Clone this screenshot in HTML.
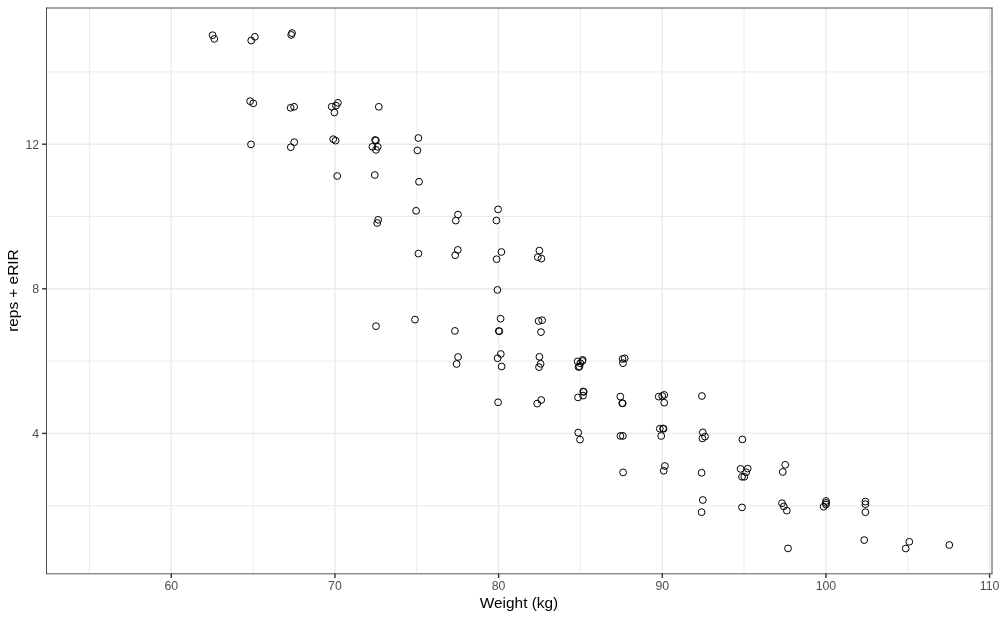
<!DOCTYPE html>
<html><head><meta charset="utf-8"><title>plot</title>
<style>html,body{margin:0;padding:0;background:#fff}svg{display:block}text{font-family:"Liberation Sans",sans-serif}</style></head><body>
<svg width="1000" height="618" viewBox="0 0 1000 618">
<rect width="1000" height="618" fill="#fff"/>
<g stroke="#EBEBEB" stroke-width="1.0" fill="none">
<line x1="46.5" x2="992.0" y1="505.70" y2="505.70"/>
<line x1="46.5" x2="992.0" y1="361.10" y2="361.10"/>
<line x1="46.5" x2="992.0" y1="216.50" y2="216.50"/>
<line x1="46.5" x2="992.0" y1="71.90" y2="71.90"/>
<line x1="89.43" x2="89.43" y1="8.0" y2="573.6"/>
<line x1="253.09" x2="253.09" y1="8.0" y2="573.6"/>
<line x1="416.76" x2="416.76" y1="8.0" y2="573.6"/>
<line x1="580.44" x2="580.44" y1="8.0" y2="573.6"/>
<line x1="744.11" x2="744.11" y1="8.0" y2="573.6"/>
<line x1="907.78" x2="907.78" y1="8.0" y2="573.6"/>
</g>
<g stroke="#EBEBEB" stroke-width="1.42" fill="none">
<line x1="46.5" x2="992.0" y1="433.40" y2="433.40"/>
<line x1="46.5" x2="992.0" y1="288.80" y2="288.80"/>
<line x1="46.5" x2="992.0" y1="144.20" y2="144.20"/>
<line x1="171.26" x2="171.26" y1="8.0" y2="573.6"/>
<line x1="334.93" x2="334.93" y1="8.0" y2="573.6"/>
<line x1="498.60" x2="498.60" y1="8.0" y2="573.6"/>
<line x1="662.27" x2="662.27" y1="8.0" y2="573.6"/>
<line x1="825.94" x2="825.94" y1="8.0" y2="573.6"/>
<line x1="989.61" x2="989.61" y1="8.0" y2="573.6"/>
</g>
<g stroke="#000" stroke-width="1" fill="none">
<circle cx="212.6" cy="35.2" r="3.4"/>
<circle cx="214.3" cy="38.9" r="3.4"/>
<circle cx="254.9" cy="36.8" r="3.4"/>
<circle cx="251.2" cy="40.5" r="3.4"/>
<circle cx="250.1" cy="101.2" r="3.4"/>
<circle cx="253.3" cy="103.3" r="3.4"/>
<circle cx="251.0" cy="144.4" r="3.4"/>
<circle cx="292.0" cy="33.1" r="3.4"/>
<circle cx="291.2" cy="34.9" r="3.4"/>
<circle cx="290.6" cy="107.8" r="3.4"/>
<circle cx="294.1" cy="106.8" r="3.4"/>
<circle cx="294.2" cy="142.2" r="3.4"/>
<circle cx="290.8" cy="147.2" r="3.4"/>
<circle cx="337.9" cy="102.8" r="3.4"/>
<circle cx="331.7" cy="106.7" r="3.4"/>
<circle cx="336.0" cy="105.6" r="3.4"/>
<circle cx="334.4" cy="112.5" r="3.4"/>
<circle cx="333.2" cy="139.2" r="3.4"/>
<circle cx="335.6" cy="140.6" r="3.4"/>
<circle cx="337.2" cy="176.0" r="3.4"/>
<circle cx="378.8" cy="106.8" r="3.4"/>
<circle cx="375.1" cy="140.0" r="3.4"/>
<circle cx="375.9" cy="140.5" r="3.4"/>
<circle cx="372.4" cy="146.8" r="3.4"/>
<circle cx="377.7" cy="146.8" r="3.4"/>
<circle cx="376.0" cy="149.9" r="3.4"/>
<circle cx="374.8" cy="175.0" r="3.4"/>
<circle cx="378.2" cy="219.8" r="3.4"/>
<circle cx="377.2" cy="223.0" r="3.4"/>
<circle cx="376.0" cy="326.2" r="3.4"/>
<circle cx="418.4" cy="138.0" r="3.4"/>
<circle cx="417.4" cy="150.4" r="3.4"/>
<circle cx="419.0" cy="181.8" r="3.4"/>
<circle cx="416.1" cy="210.8" r="3.4"/>
<circle cx="418.4" cy="253.6" r="3.4"/>
<circle cx="415.0" cy="319.6" r="3.4"/>
<circle cx="458.0" cy="214.6" r="3.4"/>
<circle cx="455.8" cy="220.6" r="3.4"/>
<circle cx="457.8" cy="249.9" r="3.4"/>
<circle cx="455.2" cy="255.2" r="3.4"/>
<circle cx="454.9" cy="330.9" r="3.4"/>
<circle cx="458.1" cy="357.0" r="3.4"/>
<circle cx="456.6" cy="364.0" r="3.4"/>
<circle cx="498.1" cy="209.4" r="3.4"/>
<circle cx="496.4" cy="220.5" r="3.4"/>
<circle cx="501.4" cy="252.0" r="3.4"/>
<circle cx="496.6" cy="259.2" r="3.4"/>
<circle cx="497.4" cy="289.9" r="3.4"/>
<circle cx="500.6" cy="318.7" r="3.4"/>
<circle cx="498.8" cy="331.0" r="3.4"/>
<circle cx="499.3" cy="331.3" r="3.4"/>
<circle cx="500.8" cy="354.0" r="3.4"/>
<circle cx="497.6" cy="358.2" r="3.4"/>
<circle cx="501.6" cy="366.5" r="3.4"/>
<circle cx="498.1" cy="402.3" r="3.4"/>
<circle cx="539.4" cy="250.6" r="3.4"/>
<circle cx="537.8" cy="257.2" r="3.4"/>
<circle cx="541.4" cy="258.6" r="3.4"/>
<circle cx="538.6" cy="321.0" r="3.4"/>
<circle cx="542.1" cy="320.2" r="3.4"/>
<circle cx="541.0" cy="332.1" r="3.4"/>
<circle cx="539.4" cy="356.8" r="3.4"/>
<circle cx="540.6" cy="363.8" r="3.4"/>
<circle cx="539.0" cy="367.1" r="3.4"/>
<circle cx="541.2" cy="400.0" r="3.4"/>
<circle cx="537.2" cy="403.6" r="3.4"/>
<circle cx="577.6" cy="361.4" r="3.4"/>
<circle cx="582.7" cy="359.9" r="3.4"/>
<circle cx="582.3" cy="361.0" r="3.4"/>
<circle cx="578.5" cy="367.0" r="3.4"/>
<circle cx="579.4" cy="366.5" r="3.4"/>
<circle cx="580.3" cy="363.2" r="3.4"/>
<circle cx="583.2" cy="391.5" r="3.4"/>
<circle cx="583.7" cy="391.9" r="3.4"/>
<circle cx="583.0" cy="395.6" r="3.4"/>
<circle cx="578.0" cy="397.4" r="3.4"/>
<circle cx="578.2" cy="432.6" r="3.4"/>
<circle cx="580.0" cy="439.6" r="3.4"/>
<circle cx="624.7" cy="358.3" r="3.4"/>
<circle cx="622.6" cy="359.0" r="3.4"/>
<circle cx="623.0" cy="363.2" r="3.4"/>
<circle cx="620.3" cy="396.6" r="3.4"/>
<circle cx="622.2" cy="403.1" r="3.4"/>
<circle cx="622.7" cy="403.4" r="3.4"/>
<circle cx="620.4" cy="435.9" r="3.4"/>
<circle cx="622.9" cy="435.9" r="3.4"/>
<circle cx="623.1" cy="472.4" r="3.4"/>
<circle cx="664.2" cy="394.9" r="3.4"/>
<circle cx="658.7" cy="396.6" r="3.4"/>
<circle cx="662.2" cy="396.0" r="3.4"/>
<circle cx="664.2" cy="402.7" r="3.4"/>
<circle cx="659.8" cy="428.7" r="3.4"/>
<circle cx="663.0" cy="428.5" r="3.4"/>
<circle cx="663.5" cy="428.8" r="3.4"/>
<circle cx="661.2" cy="436.0" r="3.4"/>
<circle cx="664.9" cy="466.0" r="3.4"/>
<circle cx="663.7" cy="470.8" r="3.4"/>
<circle cx="701.9" cy="396.0" r="3.4"/>
<circle cx="702.8" cy="432.4" r="3.4"/>
<circle cx="705.0" cy="436.6" r="3.4"/>
<circle cx="702.4" cy="438.4" r="3.4"/>
<circle cx="701.6" cy="472.8" r="3.4"/>
<circle cx="702.8" cy="500.0" r="3.4"/>
<circle cx="701.6" cy="512.2" r="3.4"/>
<circle cx="742.4" cy="439.4" r="3.4"/>
<circle cx="740.6" cy="468.9" r="3.4"/>
<circle cx="747.7" cy="468.6" r="3.4"/>
<circle cx="746.2" cy="472.3" r="3.4"/>
<circle cx="742.0" cy="476.8" r="3.4"/>
<circle cx="744.3" cy="476.8" r="3.4"/>
<circle cx="742.0" cy="507.4" r="3.4"/>
<circle cx="785.2" cy="464.8" r="3.4"/>
<circle cx="782.8" cy="472.0" r="3.4"/>
<circle cx="782.0" cy="503.2" r="3.4"/>
<circle cx="783.8" cy="506.4" r="3.4"/>
<circle cx="786.8" cy="510.6" r="3.4"/>
<circle cx="788.0" cy="548.4" r="3.4"/>
<circle cx="826.0" cy="501.0" r="3.4"/>
<circle cx="826.0" cy="502.9" r="3.4"/>
<circle cx="826.0" cy="504.6" r="3.4"/>
<circle cx="823.6" cy="506.7" r="3.4"/>
<circle cx="865.4" cy="501.6" r="3.4"/>
<circle cx="865.4" cy="504.2" r="3.4"/>
<circle cx="865.4" cy="512.2" r="3.4"/>
<circle cx="864.2" cy="540.1" r="3.4"/>
<circle cx="909.3" cy="541.8" r="3.4"/>
<circle cx="905.7" cy="548.5" r="3.4"/>
<circle cx="949.3" cy="545.0" r="3.4"/>
</g>
<g stroke="#333" fill="none">
<line x1="46.5" x2="46.5" y1="7.55" y2="574.0" stroke-width="0.85"/>
<line x1="992.0" x2="992.0" y1="7.55" y2="574.0" stroke-width="0.9"/>
<line x1="46.08" x2="992.45" y1="8.0" y2="8.0" stroke-width="0.9"/>
<line x1="46.08" x2="992.45" y1="573.8000000000001" y2="573.8000000000001" stroke-width="0.8"/>
</g>
<g stroke="#333" stroke-width="1.42">
<line x1="42.13" x2="46.5" y1="433.40" y2="433.40"/>
<line x1="42.13" x2="46.5" y1="288.80" y2="288.80"/>
<line x1="42.13" x2="46.5" y1="144.20" y2="144.20"/>
<line x1="171.26" x2="171.26" y1="573.6" y2="577.97"/>
<line x1="334.93" x2="334.93" y1="573.6" y2="577.97"/>
<line x1="498.60" x2="498.60" y1="573.6" y2="577.97"/>
<line x1="662.27" x2="662.27" y1="573.6" y2="577.97"/>
<line x1="825.94" x2="825.94" y1="573.6" y2="577.97"/>
<line x1="989.61" x2="989.61" y1="573.6" y2="577.97"/>
</g>
<g fill="#4D4D4D" font-size="12.3px">
<text x="39.1" y="437.70" text-anchor="end">4</text>
<text x="39.1" y="293.10" text-anchor="end">8</text>
<text x="39.1" y="148.50" text-anchor="end">12</text>
<text x="171.26" y="589.7" text-anchor="middle">60</text>
<text x="334.93" y="589.7" text-anchor="middle">70</text>
<text x="498.60" y="589.7" text-anchor="middle">80</text>
<text x="662.27" y="589.7" text-anchor="middle">90</text>
<text x="825.94" y="589.7" text-anchor="middle">100</text>
<text x="989.61" y="589.7" text-anchor="middle">110</text>
</g>
<text x="519.0" y="608.2" text-anchor="middle" font-size="15.4px" fill="#000">Weight (kg)</text>
<text transform="translate(18.35,290.6) rotate(-90)" text-anchor="middle" font-size="15.4px" fill="#000">reps + eRIR</text>
</svg></body></html>
